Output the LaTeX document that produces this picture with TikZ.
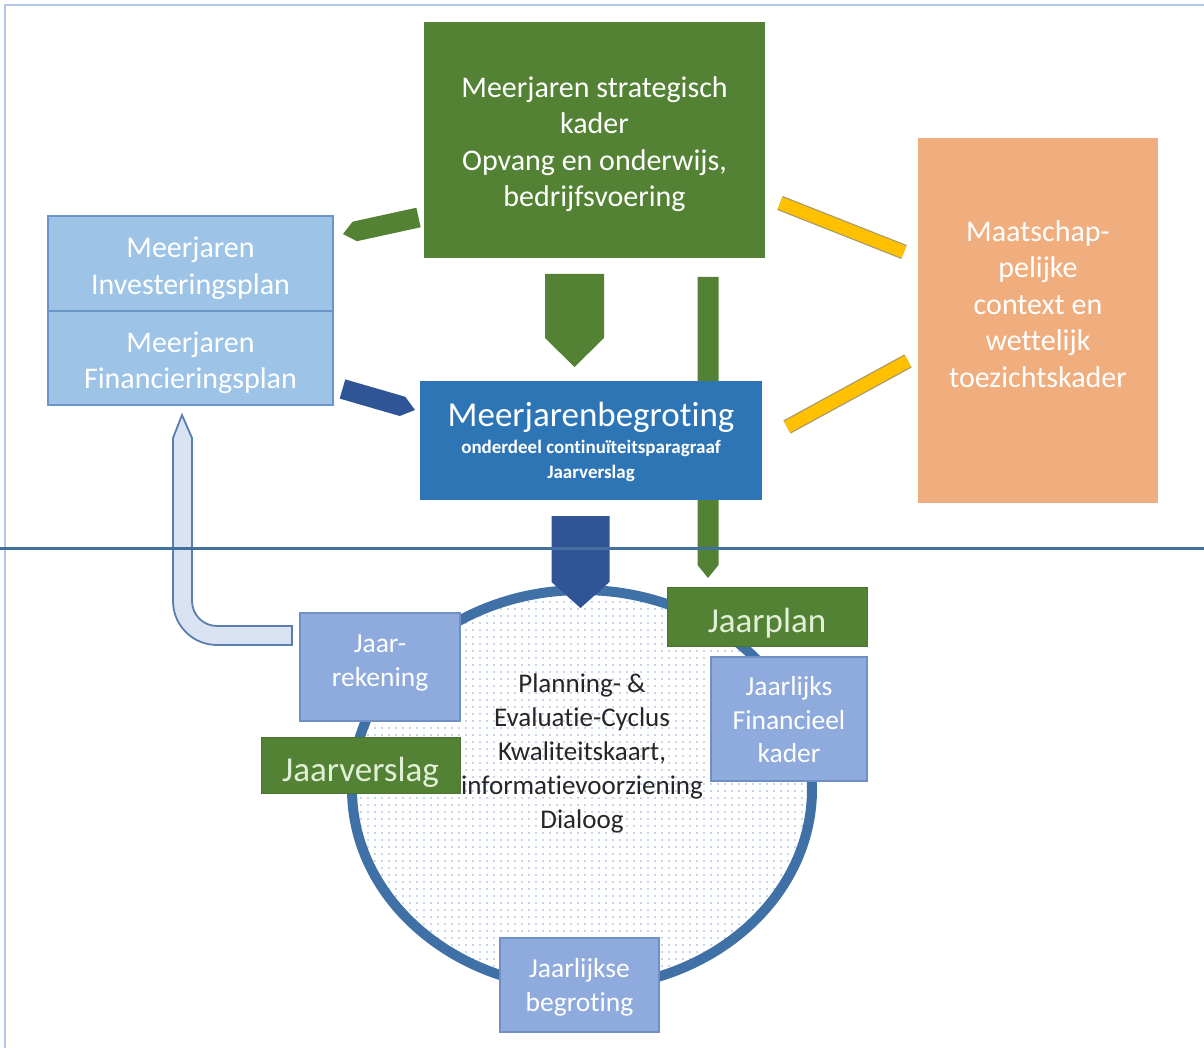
\documentclass[tikz,border=0pt]{standalone}
\usepackage{fontspec}
\setmainfont{Carlito}[Ligatures=NoCommon]
\usetikzlibrary{calc,patterns.meta}
\definecolor{grn}{HTML}{548235}
\definecolor{grnd}{HTML}{4A7430}
\definecolor{mjbc}{HTML}{2E75B6}
\definecolor{dblue}{HTML}{2F5597}
\definecolor{lb}{HTML}{9DC3E6}
\definecolor{lbd}{HTML}{6A95C8}
\definecolor{sb}{HTML}{8FAADC}
\definecolor{sbd}{HTML}{6F8FC5}
\definecolor{orc}{HTML}{F0AE7F}
\definecolor{yel}{HTML}{FFC000}
\definecolor{yelb}{HTML}{A89A6A}
\definecolor{ringc}{HTML}{3F70A6}
\definecolor{hlc}{HTML}{41719C}
\definecolor{framec}{HTML}{B4C7E7}
\definecolor{dotc}{HTML}{92ACD4}
\definecolor{txtdark}{HTML}{262626}
\definecolor{jtxt}{HTML}{E2F0D9}
\definecolor{lfill}{HTML}{DAE3F3}
\definecolor{lline}{HTML}{5A7FAE}
\tikzdeclarepattern{
  name=cdots,
  type=uncolored,
  bounding box={(0pt,0pt) and (6.5pt,6.5pt)},
  tile size={(6.5pt,6.5pt)},
  code={\fill (3.25pt,3.25pt) circle [radius=1pt];}
}
\newcommand\blockarrow[5]{%
  \coordinate (bah) at ($(#2)!#4!(#1)$);
  \fill[#5] ($(#1)!#3!90:(#2)$) -- ($(bah)!#3!90:(#2)$) -- (#2)
    -- ($(bah)!#3!-90:(#2)$) -- ($(#1)!#3!-90:(#2)$) -- cycle;
}
\begin{document}
\begin{tikzpicture}[x=1pt,y=-1pt,
  box/.style={rectangle, inner sep=0pt, outer sep=0pt},
  txt/.style={align=center, inner sep=0pt, text=white},
  big/.style={font=\fontsize{30}{36.5}\selectfont},
  mid/.style={font=\fontsize{27.5}{33.5}\selectfont},
  huge35/.style={font=\fontsize{35}{40}\selectfont}]
\useasboundingbox (0,0) rectangle (1204,1048);

% frame
\draw[framec, line width=2.5] (5,1048) -- (5,5) -- (1204,5);

% cycle
\coordinate (cyc) at (582,789);
\fill[white] (cyc) ellipse [x radius=230, y radius=199];
\fill[pattern=cdots, pattern color=dotc] (cyc) ellipse [x radius=230, y radius=199];
\draw[ringc, line width=10] (cyc) ellipse [x radius=230, y radius=199];
\node[txt, text=txtdark, font=\fontsize{27}{34}\selectfont] (cyctxt) at (582,753)
  {Planning- \&\\Evaluatie-Cyclus\\Kwaliteitskaart,\\informatievoorziening\\Dialoog};

% L-shaped return arrow
\filldraw[fill=lfill, draw=lline, line width=1.8]
  (182,415) -- (192,438) -- (192,601) .. controls (192,614.8) and (203.2,626) .. (217,626)
  -- (292,626) -- (292,645) -- (217,645) .. controls (192.7,645) and (173,625.3) .. (173,601)
  -- (173,438) -- cycle;

% long green arrow (behind Meerjarenbegroting)
\coordinate (a4s) at (708,277);
\coordinate (a4t) at (708,578);
\blockarrow{a4s}{a4t}{10.5pt}{13pt}{grn}

% main boxes
\node[box, fill=grn, minimum width=341pt, minimum height=236pt] (top) at (594.5,140) {};
\node[txt, big] (topt) at (594.5,144)
  {Meerjaren strategisch\\kader\\Opvang en onderwijs,\\bedrijfsvoering};
\node[box, fill=lb, draw=lbd, line width=1.5, minimum width=285pt, minimum height=95pt] (inv) at (190.5,263.5) {};
\node[txt, big] (invt) at (190.5,268.5) {Meerjaren\\Investeringsplan};
\node[box, fill=lb, draw=lbd, line width=1.5, minimum width=285pt, minimum height=94pt] (fin) at (190.5,358) {};
\node[txt, big] (fint) at (190.5,363) {Meerjaren\\Financieringsplan};
\node[box, fill=mjbc, minimum width=342pt, minimum height=119pt] (mjb) at (591,440.5) {};
\node[txt, huge35] (mjbt) at (591,417) {Meerjarenbegroting};
\node[txt, font=\bfseries\fontsize{19}{25}\selectfont] (mjbs) at (591,461)
  {onderdeel continuïteitsparagraaf\\Jaarverslag};
\node[box, fill=orc, minimum width=240pt, minimum height=365pt] (ctx) at (1038,320.5) {};
\node[txt, big] (ctxt) at (1038,304)
  {Maatschap-\\pelijke\\context en\\wettelijk\\toezichtskader};

% yellow connectors
\coordinate (y1a) at (780,203);
\coordinate (y1b) at (904,252);
\coordinate (y2a) at (787,427);
\coordinate (y2b) at (908,361);
\foreach \a/\b in {y1a/y1b, y2a/y2b} {
  \draw[yelb, line width=15] (\a) -- (\b);
  \draw[yel, line width=12.5] (\a) -- (\b);
}

% block arrows
\coordinate (a1s) at (418.5,217.5);
\coordinate (a1t) at (343,234);
\blockarrow{a1s}{a1t}{10pt}{12pt}{grn}
\coordinate (a2s) at (342.5,389);
\coordinate (a2t) at (415,410);
\blockarrow{a2s}{a2t}{10pt}{13pt}{dblue}
\coordinate (a3s) at (574.5,274);
\coordinate (a3t) at (574.5,367);
\blockarrow{a3s}{a3t}{29.5pt}{29pt}{grn}
\coordinate (a5s) at (580.5,516);
\coordinate (a5t) at (580.5,608);
\blockarrow{a5s}{a5t}{29pt}{26pt}{dblue}

% separator line
\coordinate (hl) at (0,548.5);
\coordinate (hr) at (1204,548.5);
\draw[hlc, line width=2.5] (hl) -- (hr);

% boxes on the cycle
\node[box, fill=sb, draw=sbd, line width=1.5, minimum width=160pt, minimum height=108pt] (rek) at (380,667) {};
\node[txt, mid] (rekt) at (380,663) {Jaar-\\rekening};
\node[box, fill=grn, draw=grnd, line width=1, minimum width=199pt, minimum height=56pt] (jv) at (360.5,765) {};
\node[txt, huge35, text=jtxt] (jvt) at (360.5,772) {Jaarverslag};
\node[box, fill=grn, draw=grnd, line width=1, minimum width=200pt, minimum height=59pt] (jp) at (767,616.5) {};
\node[txt, huge35, text=jtxt] (jpt) at (767,623) {Jaarplan};
\node[box, fill=sb, draw=sbd, line width=1.5, minimum width=156pt, minimum height=124pt] (jfk) at (789,719) {};
\node[txt, mid] (jfkt) at (789,720) {Jaarlijks\\Financieel\\kader};
\node[box, fill=sb, draw=sbd, line width=1.5, minimum width=159pt, minimum height=94pt] (jb) at (579.5,985) {};
\node[txt, mid] (jbt) at (579.5,987.5) {Jaarlijkse\\begroting};
\end{tikzpicture}
\end{document}
